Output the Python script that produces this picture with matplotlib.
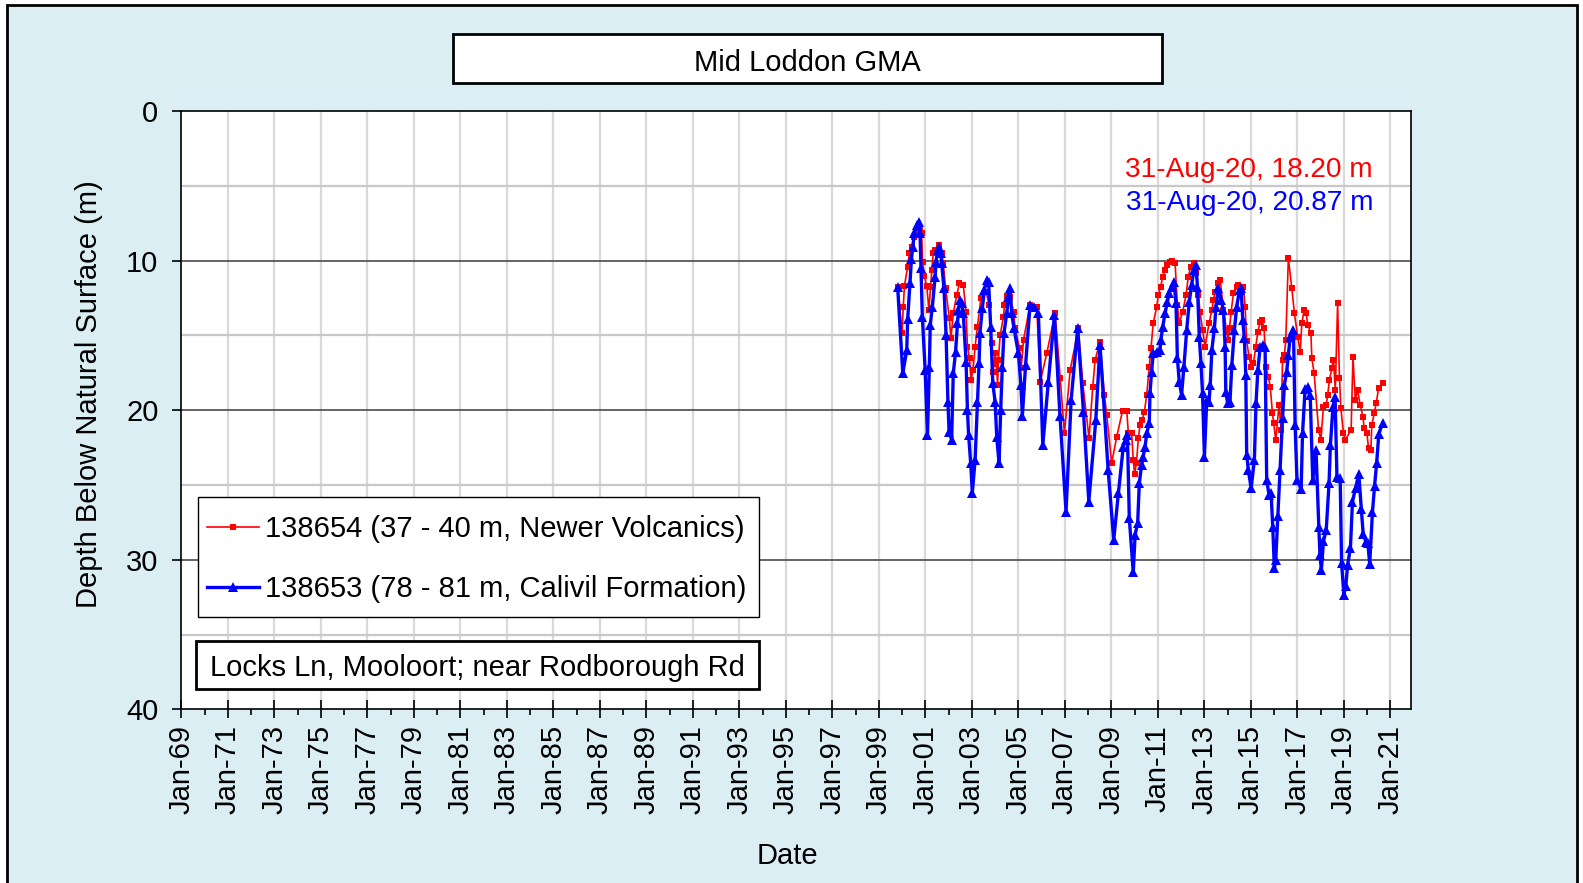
import matplotlib
matplotlib.use("Agg")
import matplotlib.pyplot as plt
import matplotlib.dates as mdates
from matplotlib.patches import Rectangle
from datetime import datetime

plt.rcParams['font.family'] = ['Liberation Sans', 'DejaVu Sans']

# ---------------- data (decimal year, depth in m) ----------------
red_t = [1999.82, 2000.0, 2000.05, 2000.1, 2000.24, 2000.31, 2000.41, 2000.53, 2000.63, 2000.75,
         2000.84, 2000.88, 2000.95, 2001.06, 2001.15, 2001.22, 2001.28, 2001.34, 2001.42, 2001.6,
         2001.7, 2001.77, 2001.87, 2002.03, 2002.1, 2002.2, 2002.35, 2002.46, 2002.63, 2002.75,
         2002.81, 2002.9, 2002.96, 2003.05, 2003.14, 2003.24, 2003.39, 2003.61, 2003.75, 2003.85,
         2003.92, 2004.0, 2004.05, 2004.11, 2004.14, 2004.22, 2004.36, 2004.4, 2004.5, 2004.65,
         2004.79, 2004.86, 2005.05, 2005.12, 2005.22, 2005.5, 2005.79, 2005.94, 2006.22, 2006.58,
         2006.8, 2006.98, 2007.23, 2007.58, 2007.77, 2008.04, 2008.2, 2008.3, 2008.51, 2008.7,
         2008.8, 2009.01, 2009.23, 2009.48, 2009.66, 2009.73, 2009.87, 2009.94, 2010.0, 2010.08,
         2010.16, 2010.23, 2010.33, 2010.42, 2010.52, 2010.63, 2010.7, 2010.8, 2010.95, 2011.02,
         2011.12, 2011.21, 2011.31, 2011.41, 2011.52, 2011.62, 2011.74, 2011.84, 2011.92, 2012.07,
         2012.21, 2012.31, 2012.41, 2012.55, 2012.64, 2012.74, 2012.81, 2012.92, 2013.03, 2013.2,
         2013.32, 2013.39, 2013.46, 2013.57, 2013.68, 2013.82, 2013.96, 2014.03, 2014.08, 2014.15,
         2014.25, 2014.39, 2014.46, 2014.68, 2014.75, 2014.82, 2014.92, 2015.01, 2015.11, 2015.21,
         2015.3, 2015.4, 2015.47, 2015.57, 2015.64, 2015.75, 2015.83, 2015.93, 2015.98, 2016.07,
         2016.21, 2016.3, 2016.36, 2016.44, 2016.5, 2016.61, 2016.76, 2016.87, 2017.01, 2017.12,
         2017.19, 2017.29, 2017.38, 2017.44, 2017.58, 2017.62, 2017.72, 2017.91, 2018.01, 2018.12,
         2018.24, 2018.3, 2018.38, 2018.48, 2018.55, 2018.63, 2018.73, 2018.81, 2018.87, 2018.98,
         2019.06, 2019.31, 2019.39, 2019.49, 2019.59, 2019.7, 2019.82, 2019.87, 2019.99, 2020.06,
         2020.16, 2020.2, 2020.3, 2020.39, 2020.49, 2020.66]
red_d = [11.8, 14.86, 13.12, 11.7, 10.41, 9.51, 9.07, 8.4, 8.18, 7.9,
         8.18, 10.07, 11.0, 11.7, 13.3, 11.8, 10.6, 9.51, 9.29, 8.96,
         9.51, 10.18, 11.85, 13.86, 15.2, 13.53, 12.3, 11.52, 11.63, 13.41,
         15.75, 16.53, 17.98, 17.31, 15.75, 14.42, 12.52, 12.08, 13.0, 15.53,
         17.42, 16.2, 16.9, 18.32, 16.65, 14.97, 13.75, 12.97, 12.37, 12.41,
         13.42, 14.53, 15.87, 17.2, 15.31, 12.97, 13.08, 18.09, 16.2, 13.53,
         17.87, 21.55, 17.31, 14.53, 18.2, 21.88, 18.43, 16.65, 15.42, 19.0,
         20.32, 23.55, 21.77, 20.03, 20.03, 21.54, 21.54, 23.33, 24.3, 23.5,
         21.88, 21.0, 20.65, 20.1, 18.98, 17.09, 15.86, 14.19, 13.08, 12.3,
         11.74, 11.07, 10.63, 10.29, 10.07, 10.0, 10.14, 12.96, 14.19, 13.41,
         12.3, 11.07, 10.4, 10.14, 10.85, 12.3, 13.41, 14.64, 15.75, 14.19,
         13.3, 12.63, 12.07, 11.52, 11.29, 13.3, 14.75, 15.3, 14.52, 13.41,
         12.18, 11.74, 11.63, 11.74, 13.08, 15.41, 16.42, 17.09, 16.86, 15.75,
         14.75, 14.08, 13.97, 14.52, 17.09, 17.76, 18.42, 20.21, 20.88, 21.99,
         19.65, 21.32, 16.64, 16.31, 15.3, 9.85, 11.85, 13.52, 15.08, 16.08,
         14.19, 13.3, 13.52, 14.3, 14.86, 16.53, 17.53, 21.32, 21.99, 19.76,
         19.65, 18.98, 17.98, 17.2, 16.64, 18.65, 12.85, 17.87, 19.87, 21.54,
         21.99, 21.32, 16.42, 19.32, 18.65, 19.65, 20.43, 21.21, 21.54, 22.55,
         22.66, 20.99, 20.21, 19.54, 18.54, 18.2]

blue_t = [1999.81, 2000.03, 2000.2, 2000.24, 2000.34, 2000.4, 2000.46, 2000.53, 2000.63, 2000.73,
          2000.77, 2000.81, 2000.87, 2000.99, 2001.09, 2001.17, 2001.21, 2001.3, 2001.42, 2001.46,
          2001.53, 2001.6, 2001.67, 2001.7, 2001.8, 2001.89, 2001.97, 2002.02, 2002.13, 2002.2,
          2002.3, 2002.38, 2002.42, 2002.49, 2002.56, 2002.63, 2002.75, 2002.81, 2002.86, 2002.95,
          2003.02, 2003.14, 2003.24, 2003.31, 2003.35, 2003.45, 2003.54, 2003.64, 2003.72, 2003.81,
          2003.9, 2004.0, 2004.07, 2004.17, 2004.24, 2004.31, 2004.38, 2004.5, 2004.57, 2004.64,
          2004.71, 2004.81, 2005.0, 2005.11, 2005.17, 2005.31, 2005.5, 2005.69, 2005.86, 2006.05,
          2006.29, 2006.55, 2006.79, 2007.05, 2007.27, 2007.55, 2007.8, 2008.03, 2008.33, 2008.51,
          2008.86, 2009.1, 2009.3, 2009.51, 2009.61, 2009.69, 2009.77, 2009.94, 2010.02, 2010.13,
          2010.2, 2010.3, 2010.37, 2010.45, 2010.52, 2010.63, 2010.66, 2010.73, 2010.8, 2010.95,
          2011.09, 2011.13, 2011.21, 2011.31, 2011.41, 2011.49, 2011.59, 2011.69, 2011.78, 2011.84,
          2011.92, 2012.02, 2012.12, 2012.24, 2012.35, 2012.45, 2012.55, 2012.64, 2012.7, 2012.78,
          2012.85, 2012.92, 2013.0, 2013.1, 2013.2, 2013.25, 2013.32, 2013.43, 2013.5, 2013.6,
          2013.72, 2013.82, 2013.89, 2013.92, 2014.0, 2014.1, 2014.18, 2014.29, 2014.39, 2014.51,
          2014.58, 2014.65, 2014.72, 2014.78, 2014.82, 2014.89, 2015.01, 2015.15, 2015.22, 2015.3,
          2015.4, 2015.5, 2015.61, 2015.68, 2015.78, 2015.87, 2015.94, 2016.01, 2016.07, 2016.16,
          2016.26, 2016.36, 2016.44, 2016.54, 2016.61, 2016.69, 2016.83, 2016.9, 2016.98, 2017.16,
          2017.22, 2017.33, 2017.45, 2017.55, 2017.66, 2017.8, 2017.92, 2017.97, 2018.03, 2018.12,
          2018.24, 2018.36, 2018.42, 2018.53, 2018.62, 2018.7, 2018.84, 2018.9, 2019.0, 2019.08,
          2019.16, 2019.28, 2019.37, 2019.5, 2019.64, 2019.75, 2019.83, 2019.95, 2020.03, 2020.11,
          2020.23, 2020.32, 2020.41, 2020.5, 2020.66]
blue_d = [11.79, 17.54, 15.98, 13.9, 11.48, 9.9, 9.07, 8.18, 7.62, 7.4,
          8.18, 10.52, 13.79, 17.31, 21.66, 17.09, 14.3, 13.08, 11.07, 10.07,
          9.29, 9.07, 9.52, 10.18, 11.85, 14.97, 19.43, 21.44, 21.99, 17.54,
          16.09, 14.19, 13.3, 12.63, 12.86, 13.53, 16.76, 19.99, 21.66, 23.55,
          25.51, 23.33, 19.43, 16.87, 14.82, 13.19, 11.97, 11.3, 11.41, 14.42,
          18.2, 19.43, 21.77, 23.55, 19.99, 17.09, 14.86, 13.53, 12.41, 11.85,
          13.53, 14.53, 16.2, 18.32, 20.39, 16.98, 12.97, 13.08, 13.53, 22.33,
          18.09, 13.64, 20.39, 26.78, 19.32, 14.53, 20.1, 26.11, 20.66, 15.64,
          24.0, 28.68, 25.56, 22.44, 21.99, 21.66, 27.23, 30.85, 28.34, 27.56,
          24.89, 23.66, 23.1, 22.44, 21.54, 20.88, 18.87, 17.42, 16.2, 16.08,
          15.97, 15.3, 14.41, 13.52, 12.74, 12.18, 11.74, 11.4, 12.85, 16.53,
          18.09, 18.98, 17.09, 14.64, 12.74, 11.63, 10.63, 10.29, 11.74, 15.08,
          16.86, 18.87, 23.1, 19.32, 19.43, 18.31, 15.97, 14.52, 13.08, 11.85,
          12.63, 13.3, 15.75, 18.76, 19.54, 19.43, 16.98, 14.64, 13.08, 11.96,
          11.85, 13.97, 15.19, 17.64, 22.99, 24.0, 25.22, 23.33, 19.54, 17.31,
          15.75, 15.64, 15.75, 24.66, 25.66, 25.55, 27.78, 30.57, 30.01, 27.11,
          24.0, 20.54, 18.31, 17.42, 16.31, 15.08, 14.64, 20.99, 24.66, 25.28,
          21.54, 18.6, 18.42, 19.0, 24.7, 22.66, 27.78, 29.68, 30.68, 28.78,
          28.0, 24.89, 22.32, 19.76, 19.1, 24.44, 24.55, 30.23, 32.35, 31.79,
          30.34, 29.23, 26.11, 25.22, 24.27, 26.6, 28.3, 28.8, 28.9, 30.28,
          26.78, 25.05, 23.5, 21.6, 20.87]

red_label = "138654 (37 - 40 m, Newer Volcanics)"
blue_label = "138653 (78 - 81 m, Calivil Formation)"
title_text = "Mid Loddon GMA"
location_text = "Locks Ln, Mooloort; near Rodborough Rd"
red_latest = "31-Aug-20, 18.20 m"
blue_latest = "31-Aug-20, 20.87 m"
y_ticks = [0, 10, 20, 30, 40]
major_years = list(range(1969, 2022, 2))
minor_years = list(range(1970, 2022, 2))


def to_date(y):
    yr = int(y)
    start = datetime(yr, 1, 1)
    end = datetime(yr + 1, 1, 1)
    return start + (end - start) * (y - yr)


W, H = 1583, 883
fig = plt.figure(figsize=(W / 100, H / 100), dpi=100, facecolor='white')


def fx(px):
    return px / W


def fy(py):
    return 1 - py / H


# outer panel
fig.patches.append(Rectangle((fx(7), fy(900)), fx(1577) - fx(7), fy(5) - fy(900),
                             transform=fig.transFigure, facecolor='#DAEEF3',
                             edgecolor='black', linewidth=2, zorder=-5))

ax = fig.add_axes([fx(181.3), fy(709.3), fx(1411) - fx(181.3), fy(111) - fy(709.3)])
ax.set_zorder(1)
ax.set_facecolor('white')

# grid
for v in [5, 15, 25, 35]:
    ax.axhline(v, color='#C8C8C8', lw=1.6, zorder=1)
for v in [10, 20, 30]:
    ax.axhline(v, color='#4A4A4A', lw=1.2, zorder=1.2)
for yv in major_years[1:]:
    ax.axvline(datetime(yv, 1, 1), color='#D9D9D9', lw=1.6, zorder=0.9)

rt = [to_date(t) for t in red_t]
bt = [to_date(t) for t in blue_t]
ax.plot(rt, red_d, color='#FF0000', lw=1.2, marker='s', markersize=4.8,
        markeredgewidth=0, label=red_label, zorder=3)
ax.plot(bt, blue_d, color='#0000FF', lw=2.4, marker='^', markersize=7.5,
        markeredgewidth=0, label=blue_label, zorder=4)

ax.set_ylim(40, 0)
ax.set_xlim(datetime(1969, 1, 1), datetime(2021, 11, 20))
ax.set_yticks(y_ticks)
ax.set_xticks([datetime(y, 1, 1) for y in major_years])
ax.set_xticks([datetime(y, 1, 1) for y in minor_years], minor=True)
ax.xaxis.set_major_formatter(mdates.DateFormatter('%b-%y'))
ax.tick_params(axis='x', which='major', direction='inout', length=13, width=1.2,
               labelsize=21, labelrotation=90, pad=5)
ax.tick_params(axis='x', which='minor', direction='out', length=4.5, width=1.2)
ax.tick_params(axis='y', which='major', direction='out', length=6.5, width=1.2,
               labelsize=21, pad=10)
for s in ax.spines.values():
    s.set_color('black')
    s.set_linewidth(1.2)

# legend frame drawn separately for exact size
ax.add_patch(Rectangle((fx(198), fy(617)), fx(759) - fx(198), fy(497) - fy(617),
                       transform=fig.transFigure, facecolor='white', edgecolor='black',
                       linewidth=1.0, zorder=9, clip_on=False))
leg = ax.legend(loc='upper left', bbox_to_anchor=(fx(198), fy(506)),
                bbox_transform=fig.transFigure, fontsize=21, frameon=False,
                borderpad=0.3, handlelength=1.8, handletextpad=0.2,
                labelspacing=1.1, borderaxespad=0, numpoints=1)
leg.set_zorder(10)

# boxes
fig.patches.append(Rectangle((fx(453), fy(83)), fx(1162) - fx(453), fy(34) - fy(83),
                             transform=fig.transFigure, facecolor='white',
                             edgecolor='black', linewidth=2, zorder=5))
fig.text(fx(807.5), fy(63), title_text, ha='center', va='center', fontsize=21, zorder=6)

fig.patches.append(Rectangle((fx(196), fy(689)), fx(759) - fx(196), fy(641) - fy(689),
                             transform=fig.transFigure, facecolor='white',
                             edgecolor='black', linewidth=2, zorder=5))
fig.text(fx(477.5), fy(668), location_text, ha='center', va='center', fontsize=21, zorder=6)

fig.text(fx(1373), fy(170), red_latest, ha='right', va='center', fontsize=20.2, color='#FF0000')
fig.text(fx(1373), fy(202.5), blue_latest, ha='right', va='center', fontsize=20.2, color='#0000FF')

fig.text(fx(89), fy(394), "Depth Below Natural Surface (m)", rotation=90,
         ha='center', va='center', fontsize=21)
fig.text(fx(787), fy(856), "Date", ha='center', va='center', fontsize=21)

fig.savefig('out.png', dpi=100, facecolor='white')
